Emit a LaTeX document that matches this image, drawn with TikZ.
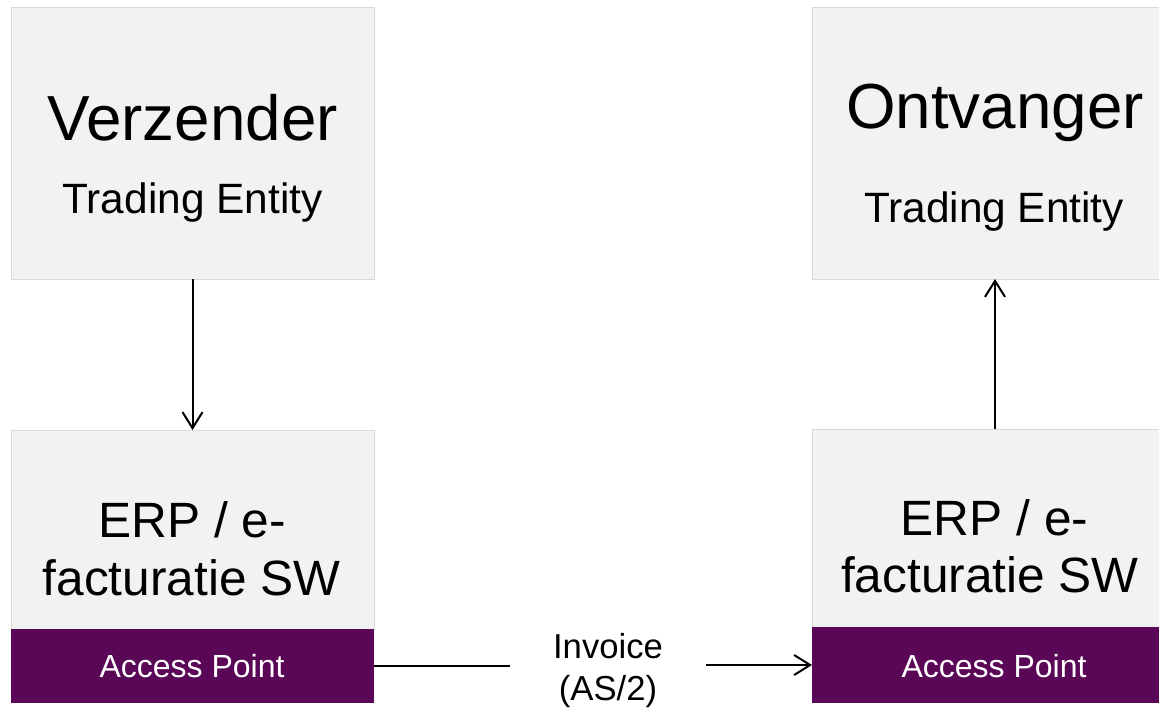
\documentclass[tikz,border=0pt]{standalone}
\usepackage{fontspec}
\setmainfont{Liberation Sans}
\usetikzlibrary{arrows.meta,fit}
\definecolor{boxgray}{HTML}{F2F2F2}
\definecolor{boxline}{HTML}{D9D9D9}
\definecolor{apurple}{HTML}{5A0757}
\begin{document}
\begin{tikzpicture}[x=0.75pt,y=-0.75pt,
  box/.style={draw=boxline, fill=boxgray, line width=0.75pt, inner sep=0pt, outer sep=0pt},
  apbar/.style={fill=apurple, inner sep=0pt, outer sep=0pt},
  titletext/.style={anchor=base, inner sep=0pt, font=\fontsize{47.8}{54}\selectfont},
  subtext/.style={anchor=base, inner sep=0pt, font=\fontsize{31.8}{36}\selectfont},
  erptext/.style={anchor=base, inner sep=0pt, font=\fontsize{37.2}{43}\selectfont},
  aptext/.style={anchor=base, inner sep=0pt, text=white, font=\fontsize{24}{28}\selectfont},
  invtext/.style={anchor=base, align=center, inner xsep=32pt, inner ysep=0pt, font=\fontsize{26}{31.5}\selectfont},
  plainline/.style={line width=1.5pt},
  conn/.style={line width=1.5pt, -{Straight Barb[length=12pt,width=15pt]}}
]
\useasboundingbox (0,0) rectangle (1159,708);
\clip (0,0) rectangle (1159,708);
\fill[white] (0,0) rectangle (1159,708);

% boxes
\node[box, fit={(11,7) (374,279)}] (sender) {};
\node[box, fit={(812,7) (1178,279)}] (receiver) {};
\node[box, fit={(11,430) (374,629)}] (erpL) {};
\node[box, fit={(812,429) (1178,627)}] (erpR) {};
\node[apbar, fit={(11,629) (374,703)}] (apL) {};
\node[apbar, fit={(812,627) (1178,703)}] (apR) {};

% texts
\node[titletext] (senderT) at (192.5,140) {Verzender};
\node[subtext] (senderS) at (192.5,213) {Trading Entity};
\node[titletext] (receiverT) at (995,128) {Ontvanger};
\node[subtext] (receiverS) at (994,222) {Trading Entity};
\node[erptext] (erpL1) at (192,537) {ERP / e-};
\node[erptext] (erpL2) at (191.5,595) {facturatie SW};
\node[erptext] (erpR1) at (994.5,535) {ERP / e-};
\node[erptext] (erpR2) at (990,592) {facturatie SW};
\node[aptext] (apLT) at (192,677) {Access Point};
\node[aptext] (apRT) at (994,677) {Access Point};
\node[invtext] (invoice) at (608,700) {Invoice\\(AS/2)};

% connectors
\draw[conn] (sender.south) -- (erpL.north);
\draw[conn] (erpR.north) -- (receiver.south);
\draw[plainline] (apL.east) -- (apL.east -| invoice.west);
\draw[conn] (apR.west -| invoice.east) -- (apR.west);
\end{tikzpicture}
\end{document}
